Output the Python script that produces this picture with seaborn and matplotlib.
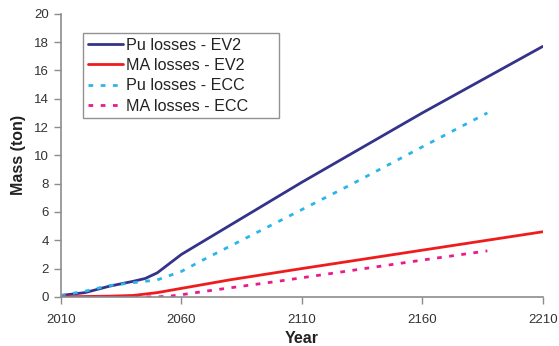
import matplotlib
matplotlib.use("Agg")
import matplotlib.pyplot as plt
import seaborn as sns
import pandas as pd

# ---- data ----
years_pu_ev2 = [2010, 2020, 2030, 2040, 2045, 2050, 2060, 2110, 2160, 2210]
pu_ev2 = [0.1, 0.3, 0.75, 1.1, 1.3, 1.7, 3.0, 8.1, 13.0, 17.7]

years_ma_ev2 = [2010, 2030, 2040, 2050, 2060, 2080, 2110, 2160, 2210]
ma_ev2 = [0.0, 0.05, 0.1, 0.3, 0.6, 1.2, 2.0, 3.3, 4.6]

years_pu_ecc = [2010, 2020, 2030, 2040, 2050, 2060, 2070, 2100, 2130, 2160, 2187]
pu_ecc = [0.1, 0.4, 0.8, 1.0, 1.2, 1.8, 2.7, 5.3, 7.9, 10.6, 13.0]

years_ma_ecc = [2010, 2050, 2055, 2060, 2070, 2100, 2130, 2160, 2187]
ma_ecc = [0.0, 0.0, 0.05, 0.15, 0.4, 1.1, 1.85, 2.6, 3.25]

series_names = ["Pu losses - EV2", "MA losses - EV2", "Pu losses - ECC", "MA losses - ECC"]
x_ticks = [2010, 2060, 2110, 2160, 2210]
y_ticks = [0, 2, 4, 6, 8, 10, 12, 14, 16, 18, 20]

frames = []
for name, xs, ys in zip(series_names,
                        [years_pu_ev2, years_ma_ev2, years_pu_ecc, years_ma_ecc],
                        [pu_ev2, ma_ev2, pu_ecc, ma_ecc]):
    frames.append(pd.DataFrame({"Year": xs, "Mass": ys, "Series": name}))
df = pd.concat(frames, ignore_index=True)

sns.set_style("white")
plt.rcParams["font.family"] = ["Liberation Sans", "DejaVu Sans"]

fig = plt.figure(figsize=(5.59, 3.46), dpi=100)
ax = fig.add_axes([0.109, 0.142, 0.862, 0.818])

palette = {"Pu losses - EV2": "#33338a", "MA losses - EV2": "#ee1c1c",
           "Pu losses - ECC": "#2cb5ea", "MA losses - ECC": "#ea1a8a"}
dash_map = {"Pu losses - EV2": "", "MA losses - EV2": "",
            "Pu losses - ECC": (1.7, 2.7), "MA losses - ECC": (1.7, 2.7)}

sns.lineplot(data=df, x="Year", y="Mass", hue="Series", style="Series",
             hue_order=series_names, style_order=series_names,
             palette=palette, dashes=dash_map, linewidth=2.0,
             sort=False, estimator=None, ax=ax, legend=True)

ax.set_xlim(2010, 2210)
ax.set_ylim(0, 20)
ax.set_xticks(x_ticks)
ax.set_yticks(y_ticks)
ax.set_xlabel("Year", fontsize=11.5, fontweight="bold", color="#222222", labelpad=4)
ax.set_ylabel("Mass (ton)", fontsize=11.5, fontweight="bold", color="#222222", labelpad=6)

for s in ["top", "right"]:
    ax.spines[s].set_visible(False)
for s in ["left", "bottom"]:
    ax.spines[s].set_color("#8c8c8c")
    ax.spines[s].set_linewidth(1.2)
ax.tick_params(axis="both", direction="out", length=5, width=1, color="#8c8c8c",
               labelsize=9.5, labelcolor="#333333", left=True, bottom=True)
ax.tick_params(axis="x", pad=7)

leg = ax.legend(loc="upper left", bbox_to_anchor=(0.0456, 0.4, 0.407, 0.533),
                mode="expand", fontsize=11.6,
                frameon=True, fancybox=False, shadow=False, handlelength=2.2,
                handletextpad=0.15, labelspacing=0.33, borderpad=0.3,
                borderaxespad=0)
leg.get_frame().set_edgecolor("#777777")
leg.get_frame().set_linewidth(1.0)
for t in leg.get_texts():
    t.set_color("#222222")

fig.savefig("out.png", dpi=100)
